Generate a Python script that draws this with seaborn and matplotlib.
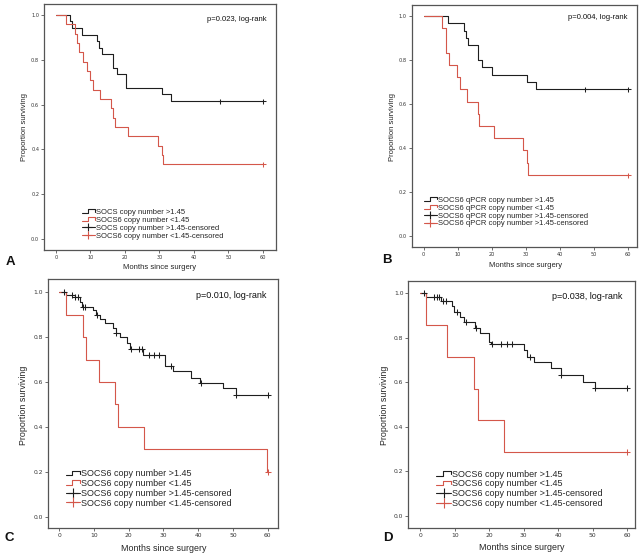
import numpy as np
import pandas as pd
import matplotlib
matplotlib.use("Agg")
import matplotlib.pyplot as plt
from matplotlib.lines import Line2D
from matplotlib.legend_handler import HandlerBase
import seaborn as sns

sns.set_style("ticks")
plt.rcParams["font.family"] = ["Liberation Sans", "DejaVu Sans"]

# ---------------- data ----------------
# Panel A
a_hi_t = [0, 4.1, 4.5, 7.4, 12.0, 12.6, 13.2, 16.4, 17.8, 20.3, 30.6, 33.3, 60]
a_hi_s = [1.0, 0.971, 0.941, 0.912, 0.882, 0.853, 0.824, 0.765, 0.735, 0.676, 0.647, 0.618, 0.618]
a_hi_ct = [47.5, 60]
a_lo_t = [0, 2.8, 5.4, 6.0, 6.6, 7.7, 9.0, 9.8, 10.6, 12.7, 15.9, 16.4, 17.0, 20.9, 29.5, 30.7, 31.1, 60]
a_lo_s = [1.0, 0.958, 0.917, 0.875, 0.833, 0.792, 0.75, 0.708, 0.667, 0.625, 0.583, 0.542, 0.5, 0.458, 0.417, 0.375, 0.333, 0.333]
a_lo_ct = [60]
a_labels = ["SOCS copy number >1.45", "SOCS6 copy number <1.45",
            "SOCS copy number >1.45-censored", "SOCS6 copy number <1.45-censored"]
a_p = "p=0.023, log-rank"

# Panel B
b_hi_t = [0, 7.1, 11.9, 12.4, 12.9, 16.1, 17.2, 20.0, 30.3, 33.0, 60]
b_hi_s = [1.0, 0.967, 0.933, 0.9, 0.867, 0.8, 0.767, 0.733, 0.7, 0.667, 0.667]
b_hi_ct = [47.4, 60]
b_lo_t = [0, 5.3, 6.5, 7.5, 9.7, 10.7, 12.8, 15.9, 16.2, 20.8, 29.3, 30.3, 30.8, 60]
b_lo_s = [1.0, 0.944, 0.833, 0.778, 0.722, 0.667, 0.611, 0.556, 0.5, 0.444, 0.389, 0.333, 0.278, 0.278]
b_lo_ct = [60]
b_labels = ["SOCS6 qPCR copy number >1.45", "SOCS6 qPCR copy number <1.45",
            "SOCS6 qPCR copy number >1.45-censored", "SOCS6 qPCR copy number >1.45-censored"]
b_p = "p=0.004, log-rank"

# Panel C
c_hi_t = [0, 1.9, 4.4, 5.9, 6.4, 9.8, 10.7, 11.7, 13.1, 15.5, 16.3, 17.5, 19.6, 20.3, 24.2,
          30.5, 32.9, 38.0, 40.6, 47.3, 50.9, 60]
c_hi_s = [1.0, 0.99, 0.98, 0.955, 0.936, 0.921, 0.899, 0.88, 0.862, 0.84, 0.82, 0.8, 0.773, 0.746, 0.72,
          0.672, 0.65, 0.62, 0.594, 0.572, 0.543, 0.543]
c_hi_ct = [1.3, 3.8, 4.6, 5.3, 6.9, 7.5, 11.0, 16.3, 20.8, 23.0, 23.9, 25.8, 27.2, 28.7, 32.1, 40.8, 50.9, 60]
c_lo_t = [0, 1.9, 6.9, 7.7, 11.3, 16.0, 17.0, 24.4, 59.8, 60]
c_lo_s = [1.0, 0.9, 0.8, 0.7, 0.6, 0.5, 0.4, 0.3, 0.2, 0.2]
c_lo_ct = [60]
c_labels = ["SOCS6 copy number >1.45", "SOCS6 copy number <1.45",
            "SOCS6 copy number >1.45-censored", "SOCS6 copy number <1.45-censored"]
c_p = "p=0.010, log-rank"

# Panel D
d_hi_t = [0, 1.7, 6.0, 9.1, 9.8, 11.5, 12.8, 15.8, 17.3, 20.0, 20.5, 30.1, 30.9, 33.0, 37.8, 40.8, 47.1, 50.7, 60]
d_hi_s = [1.0, 0.983, 0.965, 0.943, 0.918, 0.895, 0.87, 0.845, 0.82, 0.783, 0.772, 0.745, 0.715, 0.69, 0.663,
          0.633, 0.603, 0.573, 0.573]
d_hi_ct = [1.2, 4.1, 4.8, 5.5, 6.6, 7.5, 10.6, 13.3, 16.3, 20.7, 23.5, 25.3, 26.7, 31.8, 40.8, 50.7, 60]
d_lo_t = [0, 1.7, 7.7, 15.5, 16.7, 24.2, 60]
d_lo_s = [1.0, 0.857, 0.714, 0.571, 0.429, 0.286, 0.286]
d_lo_ct = [60]
d_labels = c_labels
d_p = "p=0.038, log-rank"

x_ticks = [0, 10, 20, 30, 40, 50, 60]
y_ticks = [0.0, 0.2, 0.4, 0.6, 0.8, 1.0]

BLACK = "#1e1e1e"
RED = "#d4574a"
SPINE = "#555555"


def step_lookup(ts, ss, t):
    idx = np.searchsorted(np.asarray(ts), t, side="right") - 1
    return np.asarray(ss)[idx]


class StepHandler(HandlerBase):
    def create_artists(self, legend, orig_handle, xdescent, ydescent, width, height, fontsize, trans):
        x0, y0 = -xdescent, -ydescent
        xs = [x0, x0 + 0.45 * width, x0 + 0.45 * width, x0 + width, x0 + width]
        ys = [y0 + 0.15 * height, y0 + 0.15 * height, y0 + 0.9 * height, y0 + 0.9 * height, y0 + 0.45 * height]
        ln = Line2D(xs, ys, color=orig_handle.get_color(), lw=orig_handle.get_linewidth())
        ln.set_transform(trans)
        return [ln]


panels = [
    dict(hi=(a_hi_t, a_hi_s, a_hi_ct), lo=(a_lo_t, a_lo_s, a_lo_ct), labels=a_labels, p=a_p,
         rect=[44 / 642, 1 - 250 / 557, 232 / 642, 246 / 557], xlim=(-3.48, 63.8), ylim=(-0.049, 1.049),
         small=True, leg=(0.165, 0.104), ptxt=(0.961, 0.939), xl=(0.5, -0.072), yl=(-0.082, 0.501),
         letter="A", lpos=(10 / 642, 1 - 262 / 557)),
    dict(hi=(b_hi_t, b_hi_s, b_hi_ct), lo=(b_lo_t, b_lo_s, b_lo_ct), labels=b_labels, p=b_p,
         rect=[411.7 / 642, 1 - 247.3 / 557, 225.3 / 642, 242.6 / 557], xlim=(-3.53, 62.7), ylim=(-0.051, 1.051),
         small=True, leg=(0.056, 0.146), ptxt=(0.96, 0.949), xl=(0.505, -0.073), yl=(-0.084, 0.497),
         letter="B", lpos=(386.7 / 642, 1 - 260 / 557)),
    dict(hi=(c_hi_t, c_hi_s, c_hi_ct), lo=(c_lo_t, c_lo_s, c_lo_ct), labels=c_labels, p=c_p,
         rect=[47.7 / 642, 1 - 528.3 / 557, 230.6 / 642, 249 / 557], xlim=(-3.34, 63.1), ylim=(-0.052, 1.058),
         small=False, leg=(0.078, 0.16), ptxt=(0.947, 0.933), xl=(0.504, -0.082), yl=(-0.103, 0.492),
         letter="C", lpos=(9.3 / 642, 1 - 538 / 557)),
    dict(hi=(d_hi_t, d_hi_s, d_hi_ct), lo=(d_lo_t, d_lo_s, d_lo_ct), labels=d_labels, p=d_p,
         rect=[408.3 / 642, 1 - 527.7 / 557, 227 / 642, 246.7 / 557], xlim=(-3.48, 62.4), ylim=(-0.053, 1.055),
         small=False, leg=(0.124, 0.158), ptxt=(0.941, 0.939), xl=(0.5, -0.079), yl=(-0.103, 0.497),
         letter="D", lpos=(387.7 / 642, 1 - 537.7 / 557)),
]

fig = plt.figure(figsize=(6.42, 5.57), dpi=100)

for P in panels:
    ax = fig.add_axes(P["rect"])
    g_hi, g_lo = P["labels"][0], P["labels"][1]
    curves = pd.concat([
        pd.DataFrame({"time": P["hi"][0], "surv": P["hi"][1], "group": g_hi}),
        pd.DataFrame({"time": P["lo"][0], "surv": P["lo"][1], "group": g_lo}),
    ], ignore_index=True)
    cens = pd.concat([
        pd.DataFrame({"time": P["hi"][2], "surv": step_lookup(P["hi"][0], P["hi"][1], P["hi"][2]), "group": g_hi}),
        pd.DataFrame({"time": P["lo"][2], "surv": step_lookup(P["lo"][0], P["lo"][1], P["lo"][2]), "group": g_lo}),
    ], ignore_index=True)
    pal = {g_hi: BLACK, g_lo: RED}
    lw = 0.8
    sns.lineplot(data=curves, x="time", y="surv", hue="group", palette=pal, estimator=None,
                 sort=False, drawstyle="steps-post", linewidth=lw, legend=False, ax=ax)
    ms = 3.6 if P["small"] else 4.2
    for g in (g_hi, g_lo):
        sub = cens[cens["group"] == g]
        sns.lineplot(data=sub, x="time", y="surv", color=pal[g], marker="+", markersize=ms,
                     markeredgewidth=0.75, markeredgecolor=pal[g], linestyle="", estimator=None,
                     sort=False, legend=False, ax=ax)

    ax.set_xlim(*P["xlim"])
    ax.set_ylim(*P["ylim"])
    ax.set_xticks(x_ticks)
    ax.set_yticks(y_ticks)
    ax.set_yticklabels([f"{v:.1f}" for v in y_ticks])
    tick_fs = 3.6 if P["small"] else 4.3
    lab_fs = 5.5 if P["small"] else 6.4
    leg_fs = 5.5 if P["small"] else 6.5
    ax.tick_params(axis="both", length=2, width=0.6, pad=1.5, labelsize=tick_fs, color=SPINE,
                   labelcolor="#333333")
    for lab in ax.get_xticklabels() + ax.get_yticklabels():
        lab.set_family(["DejaVu Sans"])
    for s in ax.spines.values():
        s.set_visible(True)
        s.set_color(SPINE)
        s.set_linewidth(0.9)

    ax.set_xlabel("Months since surgery", fontsize=lab_fs, va="center", ha="center")
    ax.set_ylabel("Proportion surviving", fontsize=lab_fs, va="center", ha="center")
    ax.xaxis.set_label_coords(*P["xl"])
    ax.yaxis.set_label_coords(*P["yl"])

    ax.text(P["ptxt"][0], P["ptxt"][1], P["p"], transform=ax.transAxes, ha="right", va="center",
            fontsize=lab_fs if P["small"] else 6.5, color="#111111")

    handles = [
        Line2D([], [], color=BLACK, lw=lw),
        Line2D([], [], color=RED, lw=lw),
        Line2D([], [], color=BLACK, lw=lw, marker="+", markersize=ms * 1.6, markeredgewidth=0.8),
        Line2D([], [], color=RED, lw=lw, marker="+", markersize=ms * 1.6, markeredgewidth=0.8),
    ]
    hm = {handles[0]: StepHandler(), handles[1]: StepHandler()}
    ax.legend(handles, P["labels"], handler_map=hm, loc="center left", bbox_to_anchor=P["leg"],
              frameon=False, fontsize=leg_fs, handlelength=1.6, handletextpad=0.15,
              labelspacing=0.08, borderpad=0, borderaxespad=0, handleheight=0.7)

    fig.text(P["lpos"][0], P["lpos"][1], P["letter"], fontsize=9.5, fontweight="bold",
             ha="center", va="center", color="#111111")

fig.savefig("out.png", dpi=100)
